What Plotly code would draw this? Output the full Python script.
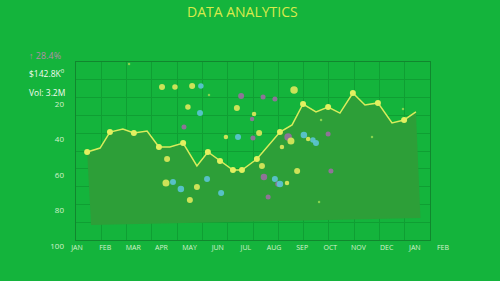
import plotly.graph_objects as go

# ---- data ----
months = ["JAN", "FEB", "MAR", "APR", "MAY", "JUN", "JUL", "AUG", "SEP", "OCT", "NOV", "DEC", "JAN", "FEB"]
month_pos = list(range(len(months)))
y_ticks = [20, 40, 60, 80, 100]

line_x = [0.36, 0.82, 1.17, 1.63, 2.02, 2.49, 2.91, 3.30, 3.77, 4.26, 4.65, 5.08, 5.54, 5.86,
          6.39, 7.21, 7.64, 8.03, 8.49, 8.92, 9.34, 9.80, 10.23, 10.69, 11.19, 11.62, 12.04]
line_y = [47.0, 44.8, 35.8, 34.1, 36.3, 35.2, 44.2, 44.2, 42.0, 54.9, 47.0, 52.1, 57.2, 57.2,
          51.0, 35.8, 31.8, 20.0, 24.5, 21.7, 25.1, 13.8, 20.6, 19.4, 30.7, 29.0, 24.5]
line_has_dot = [1, 0, 1, 0, 1, 0, 1, 0, 1, 0, 1, 1, 1, 1, 1, 1, 0, 1, 0, 1, 0, 1, 0, 1, 0, 1, 0]

base_x = [0.50, 12.20]
base_y = [88.2, 84.2]

yellow_x = [3.02, 3.48, 4.09, 3.94, 5.68, 7.71, 6.29, 5.29, 6.47, 3.20, 3.16, 4.26, 4.01, 7.60, 8.21, 7.28, 6.57, 7.82, 7.46]
yellow_y = [10.4, 10.4, 9.9, 21.7, 22.3, 12.1, 25.6, 38.6, 36.3, 51.0, 64.5, 66.8, 74.1, 40.8, 39.7, 44.2, 54.9, 57.7, 64.5]
yellow_s = [6, 5.5, 6, 5.5, 6, 7.5, 4.5, 4.5, 6, 6, 7, 6, 6, 7, 4.5, 4.5, 6, 6, 4.5]

cyan_x = [4.40, 4.37, 5.72, 3.41, 3.69, 4.62, 5.12, 8.06, 8.38, 8.49, 7.03, 7.21]
cyan_y = [9.9, 25.1, 38.6, 63.9, 67.9, 62.3, 70.1, 37.5, 40.3, 42.0, 62.3, 65.1]
cyan_s = [5.5, 6, 6, 6, 6.5, 6, 6, 6.5, 5.5, 6, 6, 6.5]

purple_x = [5.83, 6.61, 7.03, 6.22, 3.80, 6.25, 7.50, 8.92, 9.02, 6.64, 7.14, 6.79]
purple_y = [15.5, 16.1, 17.2, 28.5, 33.0, 39.2, 38.6, 36.9, 57.7, 61.1, 65.1, 72.4]
purple_s = [6, 5, 5, 4.5, 5, 5, 7.5, 5, 5, 6.5, 5.5, 5]

tiny_x = [1.85, 4.69, 11.58, 8.67, 10.48, 8.60]
tiny_y = [-2.5, 14.9, 22.8, 29.0, 38.6, 75.2]

BG = "#14b43c"
FONT = "Open Sans"
NOLINE = dict(width=0)

fig = go.Figure()

# frame / grid subplot (x, y)
fig.add_trace(go.Scatter(x=[0], y=[0], mode="markers", marker=dict(opacity=0),
                         hoverinfo="skip", showlegend=False, xaxis="x", yaxis="y"))

# data subplot (x2, y2)
fig.add_trace(go.Scatter(x=base_x, y=base_y, mode="lines", line=dict(width=0),
                         hoverinfo="skip", showlegend=False, xaxis="x2", yaxis="y2"))
fig.add_trace(go.Scatter(x=line_x, y=line_y, mode="lines", fill="tonexty",
                         fillcolor="#2d9f38", line=dict(color="#d9ec5c", width=1.5),
                         showlegend=False, xaxis="x2", yaxis="y2"))
dot_x = [x for x, d in zip(line_x, line_has_dot) if d]
dot_y = [y for y, d in zip(line_y, line_has_dot) if d]
fig.add_trace(go.Scatter(x=dot_x, y=dot_y, mode="markers",
                         marker=dict(color="#e2f060", size=6, line=NOLINE),
                         showlegend=False, xaxis="x2", yaxis="y2"))
fig.add_trace(go.Scatter(x=tiny_x, y=tiny_y, mode="markers",
                         marker=dict(color="#86d24e", size=2.5, line=NOLINE),
                         showlegend=False, xaxis="x2", yaxis="y2"))
fig.add_trace(go.Scatter(x=purple_x, y=purple_y, mode="markers",
                         marker=dict(color="#9a6ea2", size=purple_s, opacity=0.9, line=NOLINE),
                         showlegend=False, xaxis="x2", yaxis="y2"))
fig.add_trace(go.Scatter(x=cyan_x, y=cyan_y, mode="markers",
                         marker=dict(color="#5cc4d6", size=cyan_s, opacity=0.9, line=NOLINE),
                         showlegend=False, xaxis="x2", yaxis="y2"))
fig.add_trace(go.Scatter(x=yellow_x, y=yellow_y, mode="markers",
                         marker=dict(color="#d6e65a", size=yellow_s, opacity=0.95, line=NOLINE),
                         showlegend=False, xaxis="x2", yaxis="y2"))

W, H = 500, 281
x_px0, x_step = 77.0, 28.15   # screen px of month 0, px per month
y_px20, y_step = 104.0, 1.775  # screen px of value 20, px per unit

fig.update_layout(
    width=W, height=H,
    margin=dict(l=0, r=0, t=0, b=0),
    paper_bgcolor=BG, plot_bgcolor="rgba(0,0,0,0)",
    font=dict(family=FONT, color="#d4f2cc"),
    xaxis=dict(domain=[76 / W, 430 / W], range=[0, 14], dtick=1, showgrid=True,
               gridcolor="#0f9f33", gridwidth=1, showline=True, mirror=True,
               linecolor="#11872e", linewidth=1.2, showticklabels=False,
               zeroline=False, ticks="", anchor="y", fixedrange=True),
    yaxis=dict(domain=[1 - 240 / H, 1 - 62 / H], range=[0, 10], dtick=1, showgrid=True,
               gridcolor="#0f9f33", gridwidth=1, showline=True, mirror=True,
               linecolor="#11872e", linewidth=1.2, showticklabels=False,
               zeroline=False, ticks="", anchor="x", fixedrange=True),
    xaxis2=dict(domain=[0, 1], range=[(0 - x_px0) / x_step, (W - x_px0) / x_step],
                tickvals=month_pos, ticktext=months, showgrid=False, zeroline=False,
                showline=False, ticks="", anchor="free", position=1 - 242 / H,
                tickfont=dict(size=7, color="#d4f2cc", family=FONT), fixedrange=True),
    yaxis2=dict(domain=[0, 1],
                range=[20 + (H - y_px20) / y_step, 20 + (0 - y_px20) / y_step],
                tickvals=y_ticks, showgrid=False, zeroline=False, showline=False,
                ticks="", anchor="free", position=64 / W,
                tickfont=dict(size=8, color="#d4f2cc", family=FONT), fixedrange=True),
    annotations=[
        dict(text="DATA ANALYTICS", x=242 / W, y=1 - 12 / H, xref="paper", yref="paper",
             showarrow=False, font=dict(size=14, color="#d8ea4c", family=FONT),
             xanchor="center", yanchor="middle"),
        dict(text="↑ 28.4%", x=27 / W, y=1 - 55 / H, xref="paper", yref="paper",
             showarrow=False, font=dict(size=9, color="#b38ea8", family=FONT),
             xanchor="left", yanchor="middle"),
        dict(text="$142.8K<sup>0</sup>", x=27 / W, y=1 - 73 / H, xref="paper", yref="paper",
             showarrow=False, font=dict(size=8.5, color="#f2fbee", family=FONT),
             xanchor="left", yanchor="middle"),
        dict(text="Vol: 3.2M", x=27 / W, y=1 - 92 / H, xref="paper", yref="paper",
             showarrow=False, font=dict(size=8.5, color="#f2fbee", family=FONT),
             xanchor="left", yanchor="middle"),
    ],
)

fig.write_html("out.html")
